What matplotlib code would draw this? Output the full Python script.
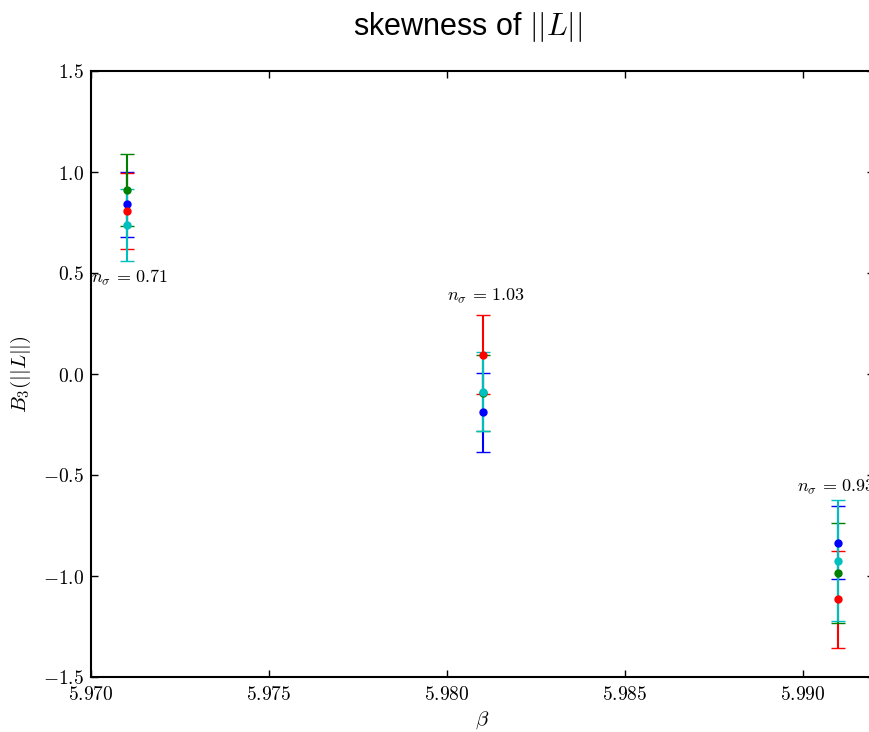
import matplotlib
matplotlib.use("Agg")
import matplotlib.pyplot as plt
from matplotlib.ticker import FuncFormatter, MultipleLocator

plt.rcParams['mathtext.fontset'] = 'cm'

betas = [5.971, 5.981, 5.991]
series_colors = ['#0000ff', '#ff0000', '#008000', '#00bfbf']
blue_vals = [0.84, -0.19, -0.835]
blue_errs = [0.16, 0.195, 0.18]
red_vals = [0.807, 0.095, -1.115]
red_errs = [0.19, 0.195, 0.24]
green_vals = [0.912, -0.094, -0.987]
green_errs = [0.177, 0.19, 0.247]
cyan_vals = [0.737, -0.087, -0.924]
cyan_errs = [0.179, 0.195, 0.3]
nsigma_labels = ['0.71', '1.03', '0.93']
label_pos_x = [5.970, 5.980, 5.98985]
label_pos_y = [0.455, 0.366, -0.58]

W, H = 869, 732
fig = plt.figure(figsize=(W/100, H/100), dpi=100)
ax = fig.add_axes([91/W, 1 - 677/H, 783/W, 606/H])

for vals, errs, col in zip([blue_vals, red_vals, green_vals, cyan_vals],
                           [blue_errs, red_errs, green_errs, cyan_errs],
                           series_colors):
    ax.errorbar(betas, vals, yerr=errs, fmt='o', color=col, ecolor=col,
                markersize=5, markeredgecolor=col, elinewidth=1.5,
                capsize=5, capthick=1.0)

for x, y, lab in zip(label_pos_x, label_pos_y, nsigma_labels):
    ax.text(x, y, r'$n_\sigma\,=\,%s$' % lab, fontsize=13, ha='left', va='baseline')

ax.set_xlim(5.970, 5.992)
ax.set_ylim(-1.5, 1.5)
ax.xaxis.set_major_locator(MultipleLocator(0.005))
ax.yaxis.set_major_locator(MultipleLocator(0.5))
ax.xaxis.set_major_formatter(FuncFormatter(lambda v, p: r'$%.3f$' % v))
ax.yaxis.set_major_formatter(FuncFormatter(lambda v, p: r'$%.1f$' % v))
ax.tick_params(direction='in', top=True, right=True, length=5, width=1,
               labelsize=14)
ax.tick_params(axis='x', pad=6)
ax.tick_params(axis='y', pad=5)
for s in ax.spines.values():
    s.set_linewidth(1.5)

ax.set_xlabel(r'$\beta$', fontsize=15)
ax.set_ylabel(r'$B_3(||L||)$', fontsize=15, labelpad=7)
ax.set_title(r'skewness of $||L||$', fontsize=22, pad=26, x=0.4815,
             family=['Liberation Sans', 'DejaVu Sans'])

fig.savefig('out.png', dpi=100)
